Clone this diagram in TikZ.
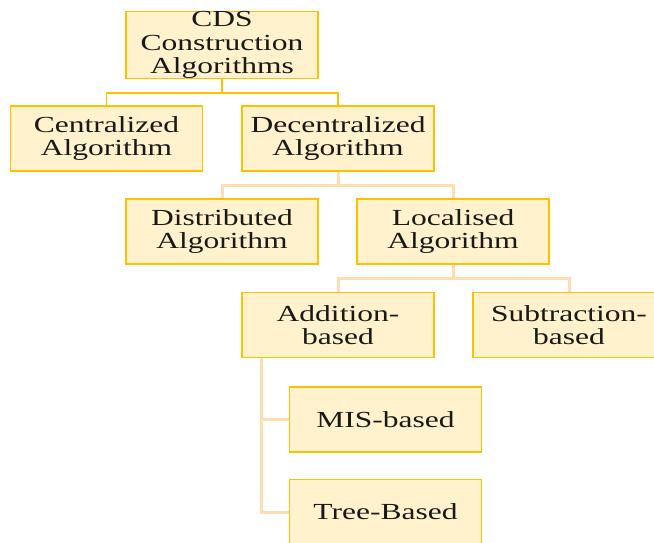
\documentclass[tikz,border=0pt]{standalone}
\usepackage{fontspec}
\setmainfont{Liberation Serif}
\usepackage{graphicx}
\definecolor{boxfill}{HTML}{FFF2CC}
\definecolor{boxline}{HTML}{FFC000}
\definecolor{peach}{HTML}{FFDDB3}
\newcommand{\sx}[1]{\scalebox{1.37}[1]{#1}}
\begin{document}
\begin{tikzpicture}[x=1pt,y=-1pt,
  box/.style={draw=boxline,fill=boxfill,line width=1.4pt,minimum width=192pt,minimum height=65pt,
    inner sep=0pt,align=center,font=\fontsize{23}{23.5}\selectfont,text=black!90},
  lnA/.style={draw=boxline,line width=1.8pt},
  lnB/.style={draw=peach,line width=3pt}]
\useasboundingbox (0,0) rectangle (654,542);
\clip (0,0) rectangle (654,542);
\node[box] (cds) at (222,45) {\sx{CDS}\\\sx{Construction}\\\sx{Algorithms}};
\node[box] (cen) at (106.5,138.5) {\sx{Centralized}\\\sx{Algorithm}};
\node[box] (dec) at (338,138.5) {\sx{Decentralized}\\\sx{Algorithm}};
\node[box] (dis) at (222,231.5) {\sx{Distributed}\\\sx{Algorithm}};
\node[box] (loc) at (453,231.5) {\sx{Localised}\\\sx{Algorithm}};
\node[box] (add) at (338,325) {\sx{Addition-}\\\sx{based}};
\node[box] (sub) at (569,325) {\sx{Subtraction-}\\\sx{based}};
\node[box] (mis) at (385.5,419.5) {\sx{MIS-based}};
\node[box] (tree) at (385.5,512) {\sx{Tree-Based}};
\draw[lnA] (cds.south) -- ++(0,14) coordinate (j1);
\draw[lnA] (j1) -| (cen.north);
\draw[lnA] (j1) -| (dec.north);
\draw[lnB] (dec.south) -- ++(0,14) coordinate (j2);
\draw[lnB] (j2) -| (dis.north);
\draw[lnB] (j2) -| (loc.north);
\draw[lnB] (loc.south) -- ++(0,14) coordinate (j3);
\draw[lnB] (j3) -| (add.north);
\draw[lnB] (j3) -| (sub.north);
\coordinate (a0) at ([xshift=20pt]add.south west);
\draw[lnB] (a0) |- (mis.west);
\draw[lnB] (a0) |- (tree.west);
\end{tikzpicture}
\end{document}
